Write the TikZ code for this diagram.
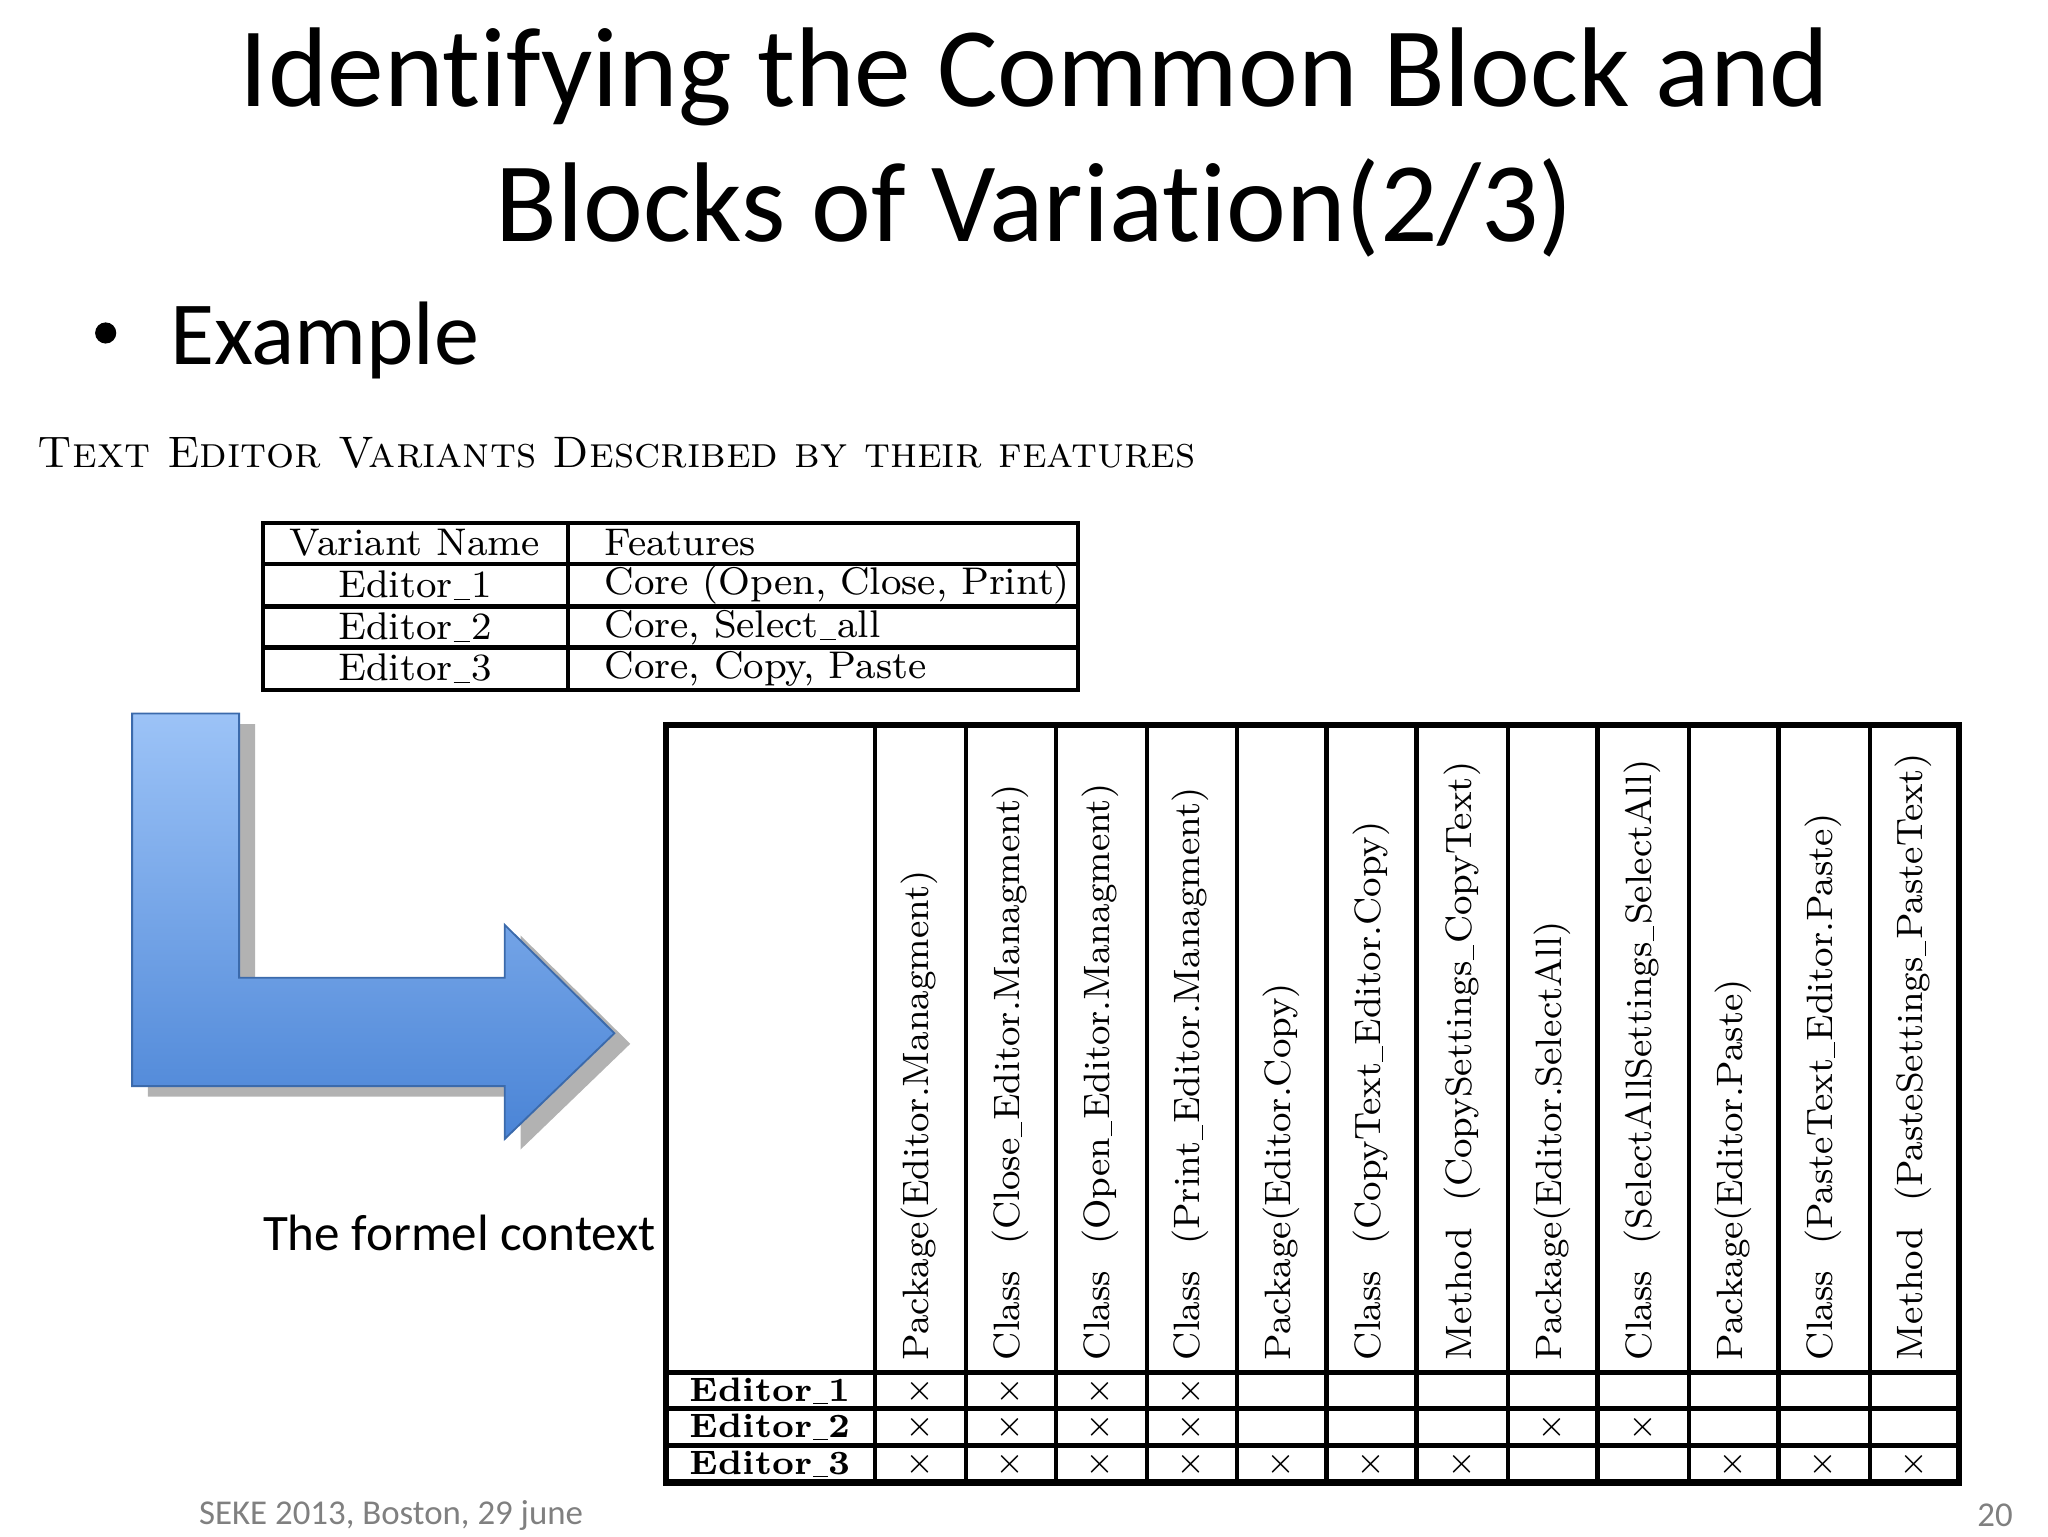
\documentclass[tikz,border=0pt]{standalone}
\usepackage{fontspec}
\newfontfamily\calfont[Ligatures={NoCommon}]{Carlito}
\usetikzlibrary{shadings}
\newcommand\us{\kern0.03em\rule[-0.15ex]{0.42em}{0.05ex}\kern0.03em}
\definecolor{atop}{HTML}{9CC3F7}
\definecolor{abot}{HTML}{4A84D6}
\begin{document}
\begin{tikzpicture}[x=0.01cm,y=-0.01cm,
  rot/.style={font=\fontsize{7.9}{10}\selectfont,rotate=90,anchor=west,inner sep=0pt},
  mk/.style={font=\fontsize{7}{8}\selectfont,inner sep=0pt},
  tl/.style={line width=0.9pt}]
\useasboundingbox (0,0) rectangle (1550,1163);
\node[font=\calfont\fontsize{24.4}{29}\selectfont,align=center] (title) at (783,108) {Identifying the Common Block and\\Blocks of Variation(2/3)};
\node[font=\calfont\fontsize{19.4}{24}\selectfont,anchor=west,inner sep=0pt] (bul) at (128,258) {Example};
\fill (80,252) circle [radius=8];
\node[font=\fontsize{9.5}{12}\selectfont\scshape,anchor=west,inner sep=0pt] (cap) at (28,343) {Text Editor Variants Described by their features};
% small table
\draw[tl] (199,396) rectangle (816,522);
\foreach \y in {427,459,490} \draw[tl] (199,\y) -- (816,\y);
\draw[tl] (430,396) -- (430,522);
\foreach \y/\a/\b [count=\i] in {411/Variant Name/Features,443/Editor\us1/{Core (Open, Close, Print)},475/Editor\us2/{Core, Select\us all},506/Editor\us3/{Core, Copy, Paste}}{
  \node[font=\fontsize{8.3}{10}\selectfont,inner sep=0pt] (va\i) at (314,\y) {\a};
  \node[font=\fontsize{8.3}{10}\selectfont,anchor=west,inner sep=0pt] (fe\i) at (457,\y) {\b};}
% arrow
\fill[gray!60] (112,548)--(193,548)--(193,748)--(394,748)--(394,708)--(477,790)--(394,870)--(394,830)--(112,830)--cycle;
\shade[top color=atop,bottom color=abot,draw=abot!80!black,line width=0.4pt]
 (100,540)--(181,540)--(181,740)--(382,740)--(382,700)--(465,782)--(382,862)--(382,822)--(100,822)--cycle;
\node[font=\calfont\fontsize{11}{13}\selectfont,anchor=east,inner sep=0pt] (fc) at (497,933) {The formel context};
% big table
\draw[line width=1.3pt] (504,549) rectangle (1483,1122);
\foreach \x in {662,731,799,868,936,1004,1072,1141,1209,1278,1346,1415} \draw[tl] (\x,549) -- (\x,1122);
\foreach \y in {1039,1066,1094} \draw[line width=1.1pt] (504,\y) -- (1483,\y);
\foreach \t [count=\i] in {Package(Editor.Managment),Class\ \ (Close\us Editor.Managment),Class\ \ (Open\us Editor.Managment),Class\ \ (Print\us Editor.Managment),Package(Editor.Copy),Class\ \ (CopyText\us Editor.Copy),Method\ \ (CopySettings\us CopyText),Package(Editor.SelectAll),Class\ \ (SelectAllSettings\us SelectAll),Package(Editor.Paste),Class\ \ (PasteText\us Editor.Paste),Method\ \ (PasteSettings\us PasteText)}{
  \pgfmathsetmacro\xx{662+68.4*(\i-1)+34}
  \node[rot] (h\i) at (\xx,1030) {\t};}
\foreach \y/\n [count=\r] in {1053/1,1080/2,1108/3}
  \node[font=\fontsize{7.3}{9}\selectfont\bfseries,inner sep=0pt] (e\r) at (583,\y) {Editor\us\n};
\foreach \r/\c in {1/1,1/2,1/3,1/4,2/1,2/2,2/3,2/4,2/8,2/9,3/1,3/2,3/3,3/4,3/5,3/6,3/7,3/10,3/11,3/12}{
  \pgfmathsetmacro\xx{662+68.4*(\c-1)+34}
  \pgfmathsetmacro\yy{1053+27.5*(\r-1)}
  \node[mk] (m\r-\c) at (\xx,\yy) {$\times$};}
\node[font=\calfont\fontsize{7.5}{9}\selectfont,text=gray,anchor=west,inner sep=0pt] (foot) at (150,1147) {SEKE 2013, Boston, 29 june};
\node[font=\calfont\fontsize{7.5}{9}\selectfont,text=gray,anchor=east,inner sep=0pt] (pg) at (1524,1147) {20};
\end{tikzpicture}
\end{document}
